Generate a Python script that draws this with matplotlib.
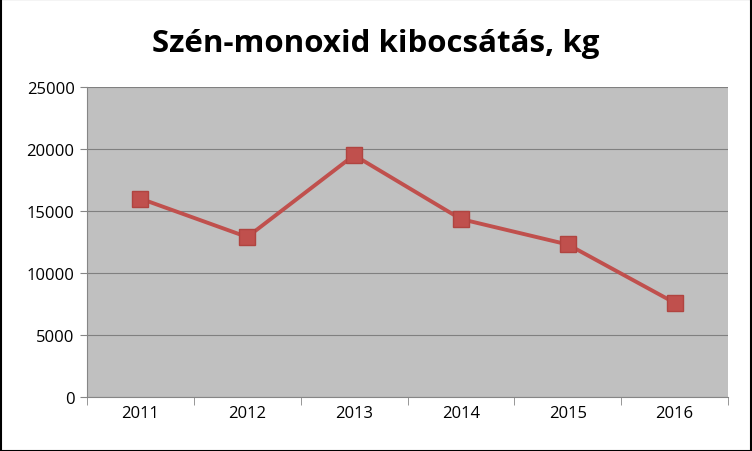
import matplotlib
matplotlib.use("Agg")
import matplotlib.pyplot as plt

years = ["2011", "2012", "2013", "2014", "2015", "2016"]
values = [16000, 12900, 19500, 14350, 12300, 7600]
yticks = [0, 5000, 10000, 15000, 20000, 25000]

fig = plt.figure(figsize=(7.52, 4.52), dpi=100)
fig.patch.set_facecolor("white")
ax = fig.add_axes([87/752, 1-398/452, (728-87)/752, 310/452])
ax.set_facecolor("#c0c0c0")
x = list(range(len(years)))
ax.plot(x, values, color="#c0504d", lw=2.8, marker="s", markersize=11,
        markerfacecolor="#c0504d", markeredgecolor="#b04440", zorder=3)
ax.set_xlim(-0.5, len(years) - 0.5)
ax.set_ylim(0, 25000)
ax.set_yticks(yticks)
ax.set_yticklabels([str(v) for v in yticks], fontsize=12, family="Open Sans")
ax.set_xticks(x)
ax.set_xticklabels(years, fontsize=12, family="Open Sans")
ax.set_xticks([i - 0.5 for i in range(len(years) + 1)], minor=True)
ax.tick_params(axis="x", which="major", length=0, pad=6)
ax.tick_params(axis="x", which="minor", length=6, color="#868686", direction="out")
ax.tick_params(axis="y", length=5, color="#868686", pad=4)
ax.grid(axis="y", color="#808080", lw=0.8)
ax.set_axisbelow(True)
for s in ["top", "right"]:
    ax.spines[s].set_visible(False)
for s in ["left", "bottom"]:
    ax.spines[s].set_color("#868686")
fig.text(0.5, 1-44/452, "Szén-monoxid kibocsátás, kg", ha="center", va="center",
         fontsize=22.5, fontweight="bold", family="Open Sans")
fig.patches.append(plt.Rectangle((0.001, 0.001), 0.998, 0.998, transform=fig.transFigure,
                                 fill=False, edgecolor="black", lw=1.5))
fig.savefig("out.png", dpi=100)
